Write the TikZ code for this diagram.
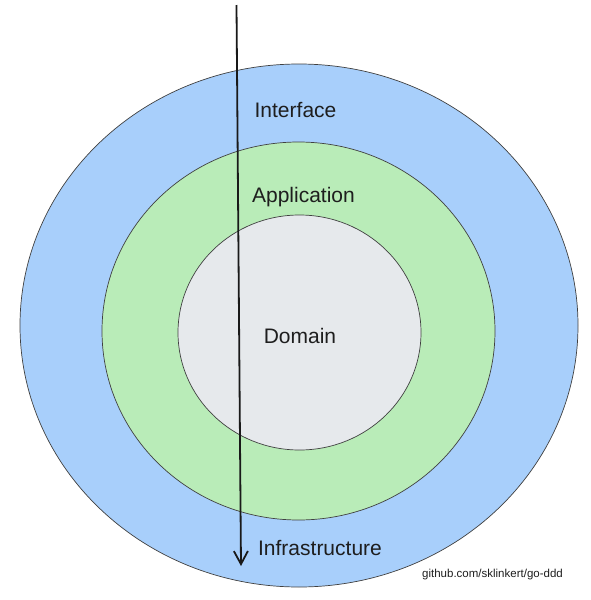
\documentclass[tikz,border=0pt]{standalone}
\usepackage{fontspec}
\setmainfont{Liberation Sans}
\usetikzlibrary{arrows.meta}
\definecolor{layerblue}{HTML}{A8CFFB}
\definecolor{layergreen}{HTML}{B9ECB8}
\definecolor{layergrey}{HTML}{E6E9EC}
\definecolor{textdark}{HTML}{1E1E1E}
\tikzset{
  ring/.style={draw=black!75, line width=0.7pt},
  lbl/.style={text=textdark, font=\fontsize{21}{25}\selectfont, inner sep=0pt},
  credit/.style={text=textdark, font=\fontsize{11.5}{14}\selectfont, inner sep=0pt},
  flow/.style={draw=black!90, line width=1.8pt, -{Straight Barb[length=13pt, width=14pt, line width=1.8pt]}}
}
\begin{document}
\begin{tikzpicture}[x=1pt, y=-1pt]
\useasboundingbox (0,0) rectangle (590,600);
\fill[white] (0,0) rectangle (590,600);
\draw[ring, fill=layerblue] (299,325.5) ellipse [x radius=279, y radius=261.5];
\draw[ring, fill=layergreen] (298.5,331) ellipse [x radius=196.5, y radius=189];
\draw[ring, fill=layergrey] (299.5,332.5) ellipse [x radius=121.5, y radius=117.5];
\node[lbl] (iface) at (295.5,110.5) {Interface};
\node[lbl] (app) at (303.5,197.5) {Application};
\node[lbl] (dom) at (300,336) {Domain};
\node[lbl] (infra) at (320,548) {Infrastructure};
\node[credit] (gh) at (492.5,574.5) {github.com/sklinkert/go-ddd};
\coordinate (top) at (236.5,5);
\coordinate (bot) at (241,566);
\draw[flow] (top) -- (bot);
\end{tikzpicture}
\end{document}
